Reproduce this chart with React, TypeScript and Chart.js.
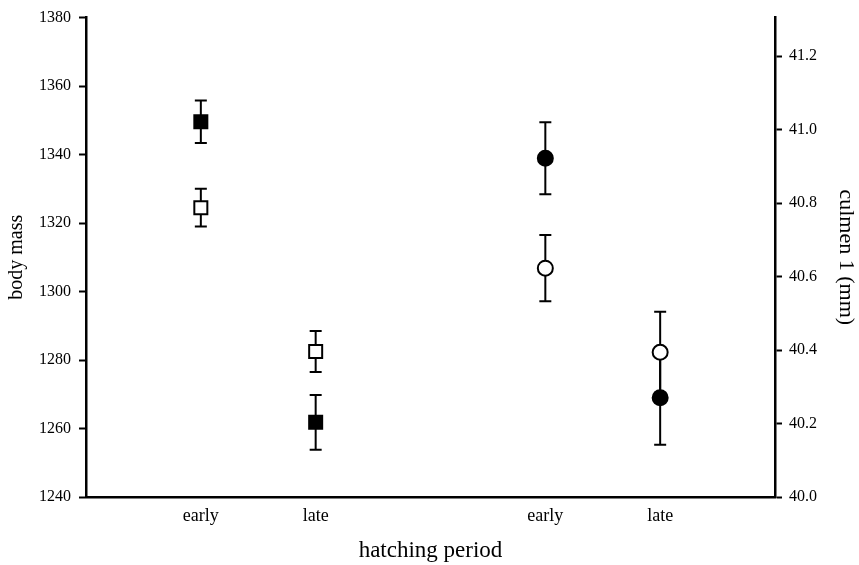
import React, { useEffect, useRef } from "react";
import { Chart, registerables } from "chart.js";

Chart.register(...registerables);

// x slots: outer empty slots frame the two groups
const categories = ["", "early", "late", "", "early", "late", ""];

// body mass (left axis) – squares
const massFilled = [null, 1349.6, 1261.8, null, null, null, null];
const massFilledErr = [null, 6.2, 8.0, null, null, null, null];
const massOpen = [null, 1324.5, 1282.5, null, null, null, null];
const massOpenErr = [null, 5.5, 6.0, null, null, null, null];

// culmen 1 (right axis) – circles
const culmenFilled = [null, null, null, null, 40.922, 40.27, null];
const culmenFilledErr = [null, null, null, null, 0.098, 0.128, null];
const culmenOpen = [null, null, null, null, 40.623, 40.394, null];
const culmenOpenErr = [null, null, null, null, 0.09, 0.11, null];

const massTicks = [1240, 1260, 1280, 1300, 1320, 1340, 1360, 1380];
const culmenTicks = [40.0, 40.2, 40.4, 40.6, 40.8, 41.0, 41.2];

const FONT = "'Liberation Serif', 'Times New Roman', serif";

const errorBarPlugin = {
  id: "errorBars",
  beforeDatasetsDraw(chart: any) {
    const ctx = chart.ctx;
    ctx.save();
    ctx.strokeStyle = "#000";
    ctx.lineWidth = 2;
    chart.data.datasets.forEach((ds: any, i: number) => {
      const errs = ds.errors;
      if (!errs) return;
      const meta = chart.getDatasetMeta(i);
      const yScale = chart.scales[ds.yAxisID];
      ds.data.forEach((v: any, j: number) => {
        if (v == null || errs[j] == null) return;
        const x = meta.data[j].x;
        const yt = yScale.getPixelForValue(v + errs[j]);
        const yb = yScale.getPixelForValue(v - errs[j]);
        ctx.beginPath();
        ctx.moveTo(x, yt);
        ctx.lineTo(x, yb);
        ctx.moveTo(x - 6, yt);
        ctx.lineTo(x + 6, yt);
        ctx.moveTo(x - 6, yb);
        ctx.lineTo(x + 6, yb);
        ctx.stroke();
      });
    });
    ctx.restore();
  },
};

export default function App() {
  const ref = useRef<HTMLCanvasElement | null>(null);

  useEffect(() => {
    document.body.style.margin = "0";
    const canvas = ref.current!;
    const mk = (data: any, errors: any, axis: string, style: string, fill: string, r: number) => ({
      type: "line",
      data,
      errors,
      yAxisID: axis,
      showLine: false,
      pointStyle: style,
      pointRadius: r,
      pointHoverRadius: r,
      pointBorderWidth: 2,
      pointBackgroundColor: fill,
      pointBorderColor: "#000",
      backgroundColor: fill,
      borderColor: "#000",
    });
    const chart = new Chart(canvas, {
      type: "line",
      data: {
        labels: categories,
        datasets: [
          mk(massOpen, massOpenErr, "y", "rect", "#fff", 9.2),
          mk(massFilled, massFilledErr, "y", "rect", "#000", 9.2),
          mk(culmenFilled, culmenFilledErr, "y1", "circle", "#000", 7.5),
          mk(culmenOpen, culmenOpenErr, "y1", "circle", "#fff", 7.5),
        ] as any,
      },
      options: {
        animation: false,
        responsive: false,
        events: [],
        layout: { padding: { top: 13, left: 0, right: 0, bottom: 0 } },
        plugins: { legend: { display: false }, tooltip: { enabled: false } },
        scales: {
          x: {
            type: "category",
            offset: false,
            grid: { display: false },
            border: { display: true, color: "#000", width: 2.5 },
            ticks: {
              color: "#000",
              font: { family: FONT, size: 18 },
              padding: 0,
              autoSkip: false,
              maxRotation: 0,
            },
            title: {
              display: true,
              text: "hatching period",
              color: "#000",
              font: { family: FONT, size: 23 },
              padding: { top: 0, bottom: 0 },
            },
            afterFit: (s: any) => {
              s.height = 68;
            },
          },
          y: {
            type: "linear",
            position: "left",
            min: 1240,
            max: 1380,
            grid: {
              display: true,
              drawOnChartArea: false,
              drawTicks: true,
              tickLength: 7,
              tickWidth: 2,
              tickColor: "#000",
            },
            border: { display: true, color: "#000", width: 2.5 },
            afterBuildTicks: (s: any) => {
              s.ticks = massTicks.map((v) => ({ value: v }));
            },
            ticks: {
              color: "#000",
              font: { family: FONT, size: 16 },
              padding: 8,
              callback: (v: any) => String(v),
            },
            title: {
              display: true,
              text: "body mass",
              color: "#000",
              font: { family: FONT, size: 20 },
              padding: { top: 5, bottom: 0 },
            },
            afterFit: (s: any) => {
              s.width = 86;
            },
          },
          y1: {
            type: "linear",
            position: "right",
            min: 40.0,
            max: 41.305,
            grid: {
              display: true,
              drawOnChartArea: false,
              drawTicks: true,
              tickLength: 7,
              tickWidth: 2,
              tickColor: "#000",
            },
            border: { display: true, color: "#000", width: 2.5 },
            afterBuildTicks: (s: any) => {
              s.ticks = culmenTicks.map((v) => ({ value: v }));
            },
            ticks: {
              color: "#000",
              font: { family: FONT, size: 16 },
              padding: 7,
              callback: (v: any) => Number(v).toFixed(1),
            },
            title: {
              display: true,
              text: "culmen 1 (mm)",
              color: "#000",
              font: { family: FONT, size: 22 },
              padding: { top: 0, bottom: 0 },
            },
            afterFit: (s: any) => {
              s.width = 84;
            },
          },
        },
      } as any,
      plugins: [errorBarPlugin],
    });
    return () => chart.destroy();
  }, []);

  return (
    <div style={{ width: 859, height: 565, background: "#fff" }}>
      <canvas ref={ref} width={859} height={565} style={{ display: "block" }} />
    </div>
  );
}
